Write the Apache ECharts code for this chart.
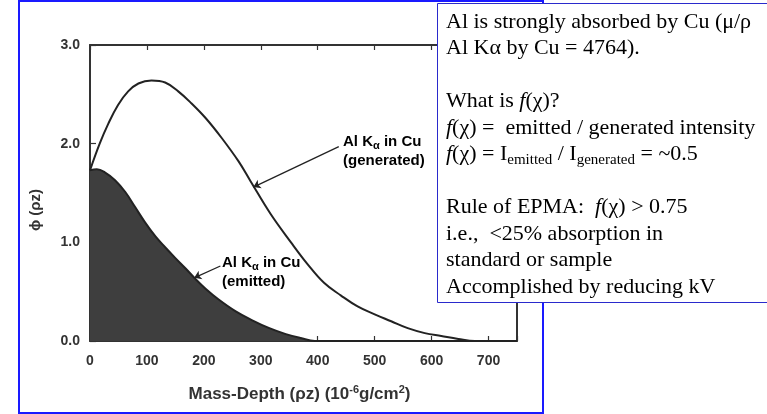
<!DOCTYPE html>
<html>
<head>
<meta charset="utf-8">
<script src="https://cdn.jsdelivr.net/npm/echarts@6/dist/echarts.min.js"></script>
<style>
html, body { margin: 0; padding: 0; background: #fff; }
#chart { width: 767px; height: 414px; }
</style>
</head>
<body>
<div id="chart"></div>
<script>
// mass depth (10^-6 g/cm2) and phi(rho z)
var genDepth = [0, 17, 32, 49, 67, 85, 108, 132, 155, 178, 203, 231, 261, 282, 317, 353, 382, 411, 441, 470, 500, 529, 558, 588, 617, 647, 676, 700, 750];
var genPhi   = [1.73, 2.00, 2.20, 2.39, 2.53, 2.61, 2.64, 2.62, 2.53, 2.41, 2.26, 2.06, 1.82, 1.62, 1.29, 1.00, 0.78, 0.59, 0.46, 0.35, 0.27, 0.20, 0.13, 0.08, 0.05, 0.02, 0.0, 0.0, 0.0];

var emDepth = [0, 12, 26, 44, 62, 79, 97, 115, 132, 150, 168, 185, 203, 226, 256, 285, 315, 344, 370, 395, 750];
var emPhi   = [1.73, 1.74, 1.71, 1.63, 1.51, 1.36, 1.20, 1.06, 0.95, 0.84, 0.735, 0.63, 0.53, 0.42, 0.30, 0.21, 0.13, 0.07, 0.03, 0.0, 0.0];

var boxLines = [
	'Al is strongly absorbed by Cu (μ/ρ',
	'Al Kα by Cu = 4764).',
	'',
	'What is {i|f}(χ)?',
	'{i|f}(χ) =  emitted / generated intensity',
	'{i|f}(χ) = I{sub|emitted} / I{sub|generated} = ~0.5',
	'',
	'Rule of EPMA:  {i|f}(χ) > 0.75',
	'i.e.,  <25% absorption in',
	'standard or sample',
	'Accomplished by reducing kV'
];

function pairs(xs, ys){
	var out = [];
	for (var i = 0; i < xs.length; i++) out.push([xs[i], ys[i]]);
	return out;
}

var myChart = echarts.init(document.getElementById('chart'));

var axisFont = 'Liberation Sans';
var ink = '#333';
var labelRich = {
	n: { fontFamily: axisFont, fontWeight: 'bold', fontSize: 15, color: ink, lineHeight: 19 },
	s: { fontFamily: axisFont, fontWeight: 'bold', fontSize: 11, color: ink, lineHeight: 11, verticalAlign: 'bottom' }
};

var graphics = [
	{ type: 'rect', z: 100, shape: { x: 19, y: 1, width: 524, height: 412 },
	  style: { fill: 'none', stroke: '#1a1aff', lineWidth: 2 } },
	{ type: 'rect', z: 101, shape: { x: 437.5, y: 3.5, width: 340, height: 299 },
	  style: { fill: '#fff', stroke: '#2a2acc', lineWidth: 1 } },
	{ type: 'text', z: 102, left: 343, top: 134,
	  style: { text: '{n|Al K}{s|α}{n| in Cu}\n{n|(generated)}', rich: labelRich } },
	{ type: 'text', z: 102, left: 222, top: 255,
	  style: { text: '{n|Al K}{s|α}{n| in Cu}\n{n|(emitted)}', rich: labelRich } }
];

var boxRich = {
	i: { fontFamily: 'Liberation Serif', fontStyle: 'italic', fontSize: 22, color: '#000', lineHeight: 26 },
	sub: { fontFamily: 'Liberation Serif', fontSize: 15, color: '#000', lineHeight: 15, verticalAlign: 'bottom' }
};
boxLines.forEach(function(line, k){
	if (!line) return;
	graphics.push({
		type: 'text', z: 103, left: 446, top: 9 + k * 26.5,
		style: {
			text: line, rich: boxRich,
			fontFamily: 'Liberation Serif', fontSize: 22, fill: '#000', lineHeight: 26
		}
	});
});

option = {
	animation: false,
	backgroundColor: '#fff',
	grid: { left: 90, right: 250, top: 45, bottom: 73 },
	xAxis: [
		{
			type: 'value', min: 0, max: 750, interval: 100,
			name: 'Mass-Depth (ρz) (10{sup|-6}g/cm{sup|2})',
			nameLocation: 'middle', nameGap: 43,
			nameTextStyle: {
				fontFamily: axisFont, fontWeight: 'bold', fontSize: 17, color: ink, lineHeight: 20,
				padding: [0, 8, 0, 0],
				rich: { sup: { fontFamily: axisFont, fontWeight: 'bold', fontSize: 11, color: ink, lineHeight: 11, verticalAlign: 'top' } }
			},
			axisLine: { onZero: false, lineStyle: { color: ink, width: 2 } },
			axisTick: { inside: true, length: 5, lineStyle: { color: ink, width: 1.2 } },
			axisLabel: { fontFamily: axisFont, fontWeight: 'bold', fontSize: 14, color: ink, margin: 13,
				formatter: function(v){ return v > 700 ? '' : v; } },
			splitLine: { show: false }
		},
		{
			type: 'value', position: 'top', min: 0, max: 750, interval: 100,
			axisLine: { onZero: false, lineStyle: { color: ink, width: 2 } },
			axisTick: { inside: true, length: 5, lineStyle: { color: ink, width: 1.2 } },
			axisLabel: { show: false },
			splitLine: { show: false }
		}
	],
	yAxis: [
		{
			type: 'value', min: 0, max: 3, interval: 1,
			name: 'ϕ (ρz)', nameLocation: 'middle', nameGap: 47, nameRotate: 90,
			nameTextStyle: { fontFamily: axisFont, fontWeight: 'bold', fontSize: 15, color: ink,
				padding: [0, 34, 0, 0] },
			axisLine: { onZero: false, lineStyle: { color: ink, width: 2 } },
			axisTick: { inside: true, length: 6, lineStyle: { color: ink, width: 1.2 } },
			axisLabel: { fontFamily: axisFont, fontWeight: 'bold', fontSize: 14, color: ink, margin: 10,
				formatter: function(v){ return v.toFixed(1); } },
			splitLine: { show: false }
		},
		{
			type: 'value', position: 'right', min: 0, max: 3, interval: 1,
			axisLine: { onZero: false, lineStyle: { color: ink, width: 2 } },
			axisTick: { show: false },
			axisLabel: { show: false },
			splitLine: { show: false }
		}
	],
	series: [
		{
			name: 'emitted', type: 'line', smooth: 0.4, showSymbol: false,
			data: pairs(emDepth, emPhi),
			lineStyle: { color: '#222', width: 2 },
			areaStyle: { color: '#3e3e3e', opacity: 1 },
			markLine: {
				silent: true, symbol: ['none', 'arrow'], symbolSize: 7,
				label: { show: false },
				lineStyle: { color: '#222', width: 1.3, type: 'solid' },
				data: [[{ coord: [229, 0.76] }, { coord: [183, 0.64] }]]
			}
		},
		{
			name: 'generated', type: 'line', smooth: 0.4, showSymbol: false,
			data: pairs(genDepth, genPhi),
			lineStyle: { color: '#222', width: 2 },
			markLine: {
				silent: true, symbol: ['none', 'arrow'], symbolSize: 7,
				label: { show: false },
				lineStyle: { color: '#222', width: 1.3, type: 'solid' },
				data: [[{ coord: [437, 1.97] }, { coord: [287, 1.56] }]]
			}
		}
	],
	graphic: graphics
};
myChart.setOption(option);
window.addEventListener("resize", function(){
	myChart.resize();
});
</script>
</body>
</html>
